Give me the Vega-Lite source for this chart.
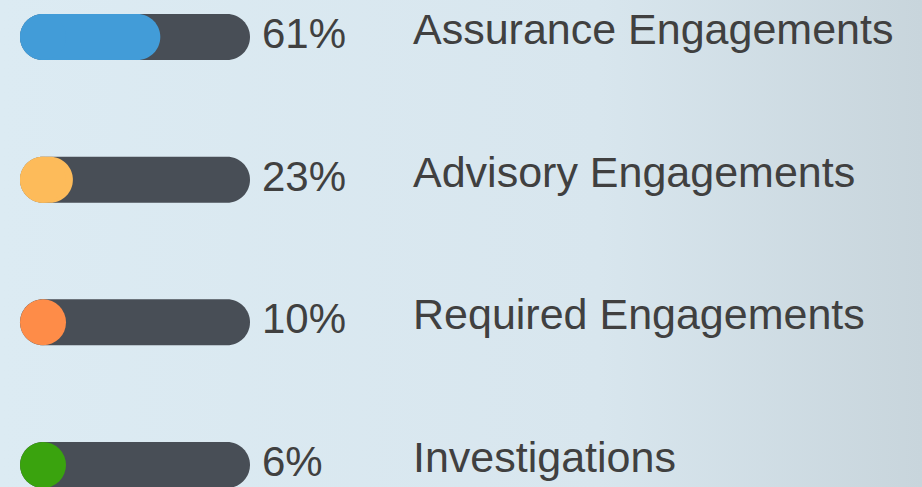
{
  "$schema": "https://vega.github.io/schema/vega-lite/v6.json",
  "width": 922,
  "height": 487,
  "padding": 0,
  "autosize": {"type": "none"},
  "background": "#dcebf3",
  "config": {"view": {"stroke": null}},
  "data": {
    "values": [
      {"category": "Assurance Engagements", "pct": 0.61, "total": 1},
      {"category": "Advisory Engagements", "pct": 0.23, "total": 1},
      {"category": "Required Engagements", "pct": 0.10, "total": 1},
      {"category": "Investigations", "pct": 0.06, "total": 1}
    ]
  },
  "encoding": {
    "y": {
      "field": "category",
      "type": "nominal",
      "sort": null,
      "scale": {"type": "point", "range": [37, 465], "padding": 0},
      "axis": null
    }
  },
  "layer": [
    {
      "data": {"values": [{"bg": 1}]},
      "mark": {
        "type": "rect",
        "fill": {
          "gradient": "linear",
          "x1": 0, "x2": 1, "y1": 0, "y2": 0,
          "stops": [
            {"offset": 0, "color": "#dcebf3"},
            {"offset": 0.65, "color": "#d8e6ee"},
            {"offset": 1, "color": "#c8d5dc"}
          ]
        }
      },
      "encoding": {
        "x": {"value": 0},
        "x2": {"value": "width"},
        "y": {"value": 0},
        "y2": {"value": "height"}
      }
    },
    {
      "mark": {"type": "bar", "size": 46, "cornerRadius": 23, "color": "#484e56"},
      "encoding": {
        "x": {"field": "total", "type": "quantitative", "stack": null, "scale": {"domain": [0, 1], "range": [20, 250]}, "axis": null}
      }
    },
    {
      "transform": [{"filter": "datum.pct >= 0.2"}],
      "mark": {"type": "bar", "size": 46, "cornerRadius": 23},
      "encoding": {
        "x": {"field": "pct", "type": "quantitative", "stack": null},
        "color": {
          "field": "category",
          "type": "nominal",
          "sort": null,
          "scale": {
            "domain": ["Assurance Engagements", "Advisory Engagements", "Required Engagements", "Investigations"],
            "range": ["#429cd8", "#fdbb5a", "#fe8c48", "#3aa30e"]
          },
          "legend": null
        }
      }
    },
    {
      "mark": {"type": "point", "shape": "circle", "filled": true, "size": 2116, "opacity": 1, "xOffset": -207},
      "encoding": {
        "x": {"field": "total", "type": "quantitative"},
        "color": {"field": "category", "type": "nominal", "sort": null, "legend": null}
      }
    },
    {
      "mark": {"type": "text", "align": "left", "baseline": "middle", "dx": 12, "dy": -2, "font": "Liberation Sans", "fontSize": 42, "color": "#404040"},
      "encoding": {
        "x": {"field": "total", "type": "quantitative"},
        "text": {"field": "pct", "type": "quantitative", "format": ".0%"}
      }
    },
    {
      "mark": {"type": "text", "align": "left", "baseline": "middle", "dx": 163, "dy": -6, "font": "Liberation Sans", "fontSize": 43, "color": "#404040"},
      "encoding": {
        "x": {"field": "total", "type": "quantitative"},
        "text": {"field": "category", "type": "nominal"}
      }
    }
  ]
}
